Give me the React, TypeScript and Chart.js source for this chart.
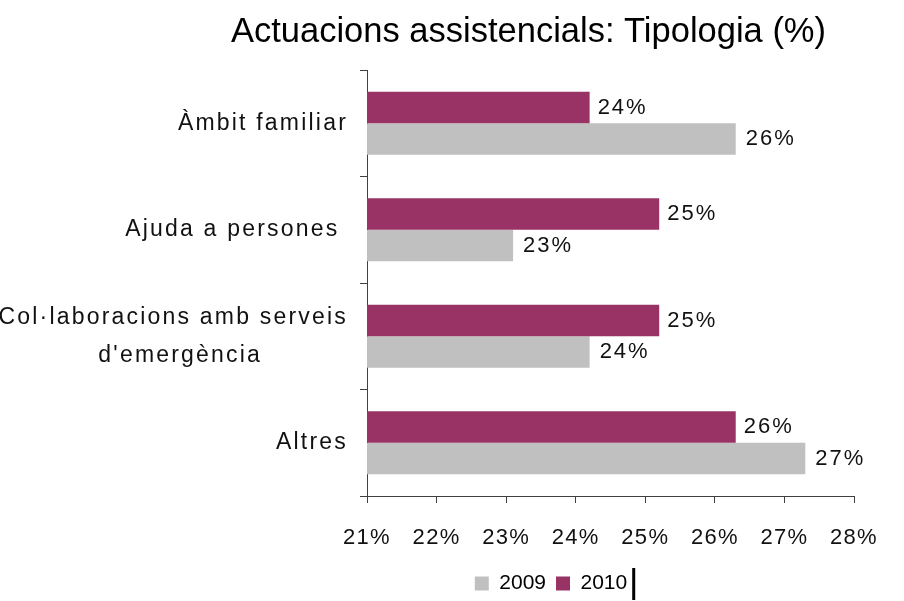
import React, { useEffect, useRef } from "react";
import { Chart, registerables } from "chart.js";

Chart.register(...registerables);

// ---- data ----
const chartTitle = "Actuacions assistencials: Tipologia (%)";
const categories: (string | string[])[] = [
  "Àmbit familiar",
  "Ajuda a persones ",
  ["Col·laboracions amb serveis", "d'emergència          "],
  "Altres",
];
const seriesNames = ["2010", "2009"];
const values2010 = [24.2, 25.2, 25.2, 26.3];
const values2009 = [26.3, 23.1, 24.2, 27.3];
const xMin = 21;
const xMax = 28;
const xStep = 1;

// ---- style ----
const FONT = '"Liberation Sans", Arial, Helvetica, sans-serif';
const COLOR_2010 = "#993366";
const COLOR_2009 = "#C0C0C0";
const AXIS_COLOR = "#404040";
const TEXT_COLOR = "#111111";

function spaced(fn: any, spacing: string) {
  return function (this: any, ...args: any[]) {
    const ctx = this.ctx;
    ctx.save();
    ctx.letterSpacing = spacing;
    fn.apply(this, args);
    ctx.restore();
  };
}

const titlePlugin = {
  id: "customTitle",
  afterDraw(chart: any) {
    const ctx = chart.ctx;
    ctx.save();
    ctx.letterSpacing = "0px";
    ctx.font = `34.5px ${FONT}`;
    ctx.fillStyle = "#000";
    ctx.textAlign = "center";
    ctx.textBaseline = "alphabetic";
    ctx.fillText(chartTitle, chart.width / 2 + 76.5, 42);
    ctx.restore();
  },
};

const valueLabelPlugin = {
  id: "valueLabels",
  afterDatasetsDraw(chart: any) {
    const ctx = chart.ctx;
    ctx.save();
    ctx.letterSpacing = "2px";
    ctx.font = `22px ${FONT}`;
    ctx.fillStyle = TEXT_COLOR;
    ctx.textAlign = "left";
    ctx.textBaseline = "middle";
    chart.data.datasets.forEach((ds: any, i: number) => {
      const meta = chart.getDatasetMeta(i);
      const gap = i === 0 ? 8 : 10;
      meta.data.forEach((bar: any, j: number) => {
        const v = ds.data[j];
        ctx.fillText(Math.round(v) + "%", bar.x + gap, bar.y);
      });
    });
    ctx.restore();
  },
};

const legendMarkPlugin = {
  id: "legendMark",
  afterDraw(chart: any) {
    const lg = chart.legend;
    if (!lg || !lg.legendHitBoxes || !lg.legendHitBoxes.length) return;
    const hb = lg.legendHitBoxes[lg.legendHitBoxes.length - 1];
    const ctx = chart.ctx;
    ctx.save();
    ctx.fillStyle = "#000";
    ctx.fillRect(hb.left + hb.width + 5, hb.top - 5, 3, 32);
    ctx.restore();
  },
};

export default function App() {
  const ref = useRef<HTMLCanvasElement | null>(null);

  useEffect(() => {
    if (!ref.current) return;
    const chart = new Chart(ref.current, {
      type: "bar",
      data: {
        labels: categories as any,
        datasets: [
          {
            label: seriesNames[0],
            data: values2010,
            backgroundColor: COLOR_2010,
            borderWidth: 0,
            categoryPercentage: 0.59,
            barPercentage: 1,
          },
          {
            label: seriesNames[1],
            data: values2009,
            backgroundColor: COLOR_2009,
            borderWidth: 0,
            categoryPercentage: 0.59,
            barPercentage: 1,
          },
        ],
      },
      options: {
        indexAxis: "y",
        animation: false,
        responsive: false,
        devicePixelRatio: 1,
        layout: { padding: { left: 248, right: 50, top: 70, bottom: 0 } },
        scales: {
          x: {
            type: "linear",
            min: xMin,
            max: xMax,
            grid: {
              display: true,
              drawOnChartArea: false,
              drawTicks: true,
              tickLength: 7,
              color: AXIS_COLOR,
            },
            border: { display: true, color: AXIS_COLOR },
            ticks: {
              stepSize: xStep,
              padding: 22,
              maxRotation: 0,
              autoSkip: false,
              color: TEXT_COLOR,
              font: { family: FONT, size: 22 },
              callback: (v: any) => v + "%",
            },
            afterFit: (scale: any) => {
              scale.height = 67;
              if (!scale._spaced) {
                scale.drawLabels = spaced(scale.drawLabels, "1.3px");
                scale._computeLabelArea = () => undefined;
                scale._spaced = true;
              }
            },
          },
          y: {
            type: "category",
            offset: true,
            grid: {
              display: true,
              offset: true,
              drawOnChartArea: false,
              drawTicks: true,
              tickLength: 7,
              color: AXIS_COLOR,
            },
            border: { display: true, color: AXIS_COLOR },
            ticks: {
              padding: 12,
              autoSkip: false,
              color: TEXT_COLOR,
              font: { family: FONT, size: 23, lineHeight: 1.66 },
            },
            afterFit: (scale: any) => {
              scale.width = 119;
              if (!scale._spaced) {
                scale.drawLabels = spaced(scale.drawLabels, "2.2px");
                scale._computeLabelArea = () => undefined;
                scale._spaced = true;
              }
            },
          },
        },
        plugins: {
          title: { display: false },
          tooltip: { enabled: false },
          legend: {
            display: true,
            position: "bottom",
            reverse: true,
            maxHeight: 38,
            labels: {
              boxWidth: 14,
              boxHeight: 14,
              padding: 10,
              color: "#000",
              font: { family: FONT, size: 21 },
            },
          },
        },
      } as any,
      plugins: [titlePlugin, valueLabelPlugin, legendMarkPlugin],
    });
    return () => chart.destroy();
  }, []);

  return (
    <div style={{ position: "fixed", left: 0, top: 0, width: 904, height: 601, background: "#fff" }}>
      <canvas ref={ref} width={904} height={601} style={{ display: "block" }} />
    </div>
  );
}
